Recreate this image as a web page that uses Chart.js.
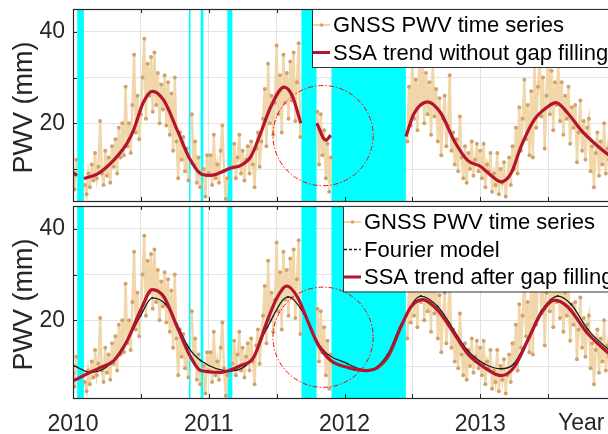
<!DOCTYPE html>
<html>
<head>
<meta charset="utf-8">
<script src="https://cdn.jsdelivr.net/npm/chart.js@4.4.1/dist/chart.umd.min.js"></script>
<style>
    html, body { margin: 0; padding: 0; background: #fff; overflow: hidden; width: 608px; height: 434px; }
    .panel { position: absolute; left: 0; }
    #topPanel { top: 0; }
    #bottomPanel { top: 197px; }
</style>
</head>
<body>
<div class="panel" id="topPanel"><canvas id="topChart" width="620" height="205"></canvas></div>
<div class="panel" id="bottomPanel"><canvas id="bottomChart" width="620" height="237"></canvas></div>
<script>
// GNSS PWV samples, one every 1/80 year from 2010.0 (null = data gap)
const pwvStart = 2010;
const pwvStep = 1 / 80;
const pwvValues = [
    8.5, 5.5, 12.0, null, null, null, null, 6.5,
    4.5, 9.0, 6.0, 11.0, 7.5, 13.5, 8.0, 10.5,
    20.5, 9.0, 6.5, 14.0, 8.5, 12.5, 7.0, 15.0,
    10.5, 16.5, 9.0, 19.0, 12.5, 20.0, 13.0, 28.0,
    15.0, 20.0, 13.5, 24.0, 35.0, 18.0, 26.0, 16.5,
    22.0, 30.0, 38.5, 21.0, 33.0, 26.0, 34.5, 22.5,
    35.5, 24.0, 31.0, 20.0, 28.5, 23.0, 30.5, 19.5,
    29.0, 17.5, 26.5, 14.0, 30.0, 16.0, 8.0, 18.0,
    12.0, 17.0, 9.5, 14.5, 7.5, null, 22.0, 11.0,
    16.0, 7.0, 12.5, 6.0, null, 10.0, 4.0, 13.0,
    9.0, 13.0, 6.5, 17.5, 8.0, 11.0, 7.0, 14.0,
    19.5, 9.5, 3.5, 8.0, null, null, 10.5, 15.5,
    8.0, 12.5, 17.5, 9.0, 14.0, 7.5, 12.0, 15.0,
    9.0, 16.0, 11.0, 6.0, 14.5, 18.0, 10.5, 16.0,
    21.0, 27.5, 15.0, 33.0, 20.0, 26.0, 17.5, 24.5,
    37.0, 22.0, 30.5, 18.0, 35.0, 24.5, 31.0, 21.0,
    33.5, 25.0, 35.5, 20.5, 29.0, 37.5, 17.0, null,
    null, null, null, null, null, null, null, null,
    22.5, 11.0, 22.0, 13.0, 18.5, 8.0, 15.5, 5.0,
    12.5, null, null, null, null, null, null, null,
    null, null, null, null, null, null, null, null,
    null, null, null, null, null, null, null, null,
    null, null, null, null, null, null, null, null,
    null, null, null, null, null, null, null, null,
    null, null, null, null, null, 16.0, 28.0, 19.5,
    34.0, 21.0, 29.5, 18.5, 33.5, 24.0, 36.0, 20.0,
    31.0, 22.0, 29.0, 17.5, 34.0, 21.5, 27.5, 16.0,
    25.5, 13.0, 21.0, 26.0, 15.0, 19.5, 30.5, 14.0,
    18.0, 11.0, 16.5, 9.5, 21.5, 12.5, 8.0, 15.0,
    7.0, 13.5, 10.0, 16.0, 8.5, 12.0, 15.5, 9.5,
    14.0, 8.0, 15.5, 6.0, 11.0, 9.5, 13.5, 5.0,
    9.0, 6.5, 13.5, 4.5, 10.0, 7.0, 11.5, 4.0,
    8.0, 12.5, 6.5, 15.0, 10.0, 19.0, 9.0, 23.5,
    14.0, 21.0, 29.5, 16.5, 24.0, 13.0, 27.0, 12.5,
    33.0, 19.0, 28.0, 35.0, 21.5, 30.0, 14.5, 26.0,
    36.0, 22.0, 31.5, 18.5, 29.0, 24.0, 33.5, 20.5,
    29.0, 17.5, 26.0, 21.0, 28.0, 15.5, 23.5, 19.0,
    24.0, 11.5, 18.0, 25.0, 14.0, 20.5, 12.0, 19.0,
    21.0, 9.5, 15.0, 6.0, 13.5, 18.0, 8.5, 16.0,
    11.0, 20.0, 9.0, 14.5, 12.0, 10.0, 15.0, 11.0
];

// gaps shaded in cyan
const gapStarts = [2010.031, 2010.854, 2010.940, 2011.137, 2011.683, 2011.904];
const gapEnds = [2010.080, 2010.866, 2010.960, 2011.174, 2011.794, 2012.452];

// SSA trend without gap filling (top)
const trendRawYears = [
    2010.0, 2010.03, 2010.05, 2010.08, 2010.178, 2010.299, 2010.400, 2010.446, 2010.520, 2010.584,
    2010.667, 2010.768, 2010.852, 2010.940, 2011.014, 2011.162, 2011.236, 2011.310,
    2011.383, 2011.457, 2011.555, 2011.617, 2011.678, 2011.74, 2011.796, 2011.862,
    2011.899, 2012.2, 2012.452, 2012.513, 2012.612, 2012.710, 2012.806, 2012.907,
    2013.005, 2013.079, 2013.153, 2013.226, 2013.300, 2013.396, 2013.497, 2013.558,
    2013.645, 2013.743, 2013.839, 2013.949, 2014.0
];
const trendRawValues = [
    9.2, 8.6, null, 7.9, 8.9, 11.9, 15.7, 18.5, 24.7, 27.0,
    25.1, 18.5, 12.7, 9.0, 8.6, 10.2, 10.8, 12.7,
    17.9, 23.6, 27.9, 25.9, 20.0, null, 20.0, 16.3,
    17.4, null, 17.1, 22.2, 24.7, 22.2, 16.3, 11.9,
    10.5, 8.6, 7.2, 9.0, 14.9, 20.7, 23.6, 24.5,
    22.2, 18.5, 15.7, 13.0, 12.0
];

// SSA trend after gap filling (bottom)
const trendFilledYears = [
    2010.006, 2010.105, 2010.203, 2010.301, 2010.400, 2010.498, 2010.584, 2010.670,
    2010.768, 2010.854, 2010.940, 2011.088, 2011.236, 2011.331, 2011.432, 2011.506,
    2011.575, 2011.653, 2011.727, 2011.801, 2011.899, 2012.022, 2012.170, 2012.317,
    2012.415, 2012.489, 2012.575, 2012.686, 2012.808, 2012.907, 2013.029, 2013.153,
    2013.249, 2013.350, 2013.448, 2013.546, 2013.645, 2013.792, 2013.949, 2014.0
];
const trendFilledValues = [
    6.8, 8.3, 9.7, 11.2, 15.6, 22.2, 26.7, 25.1,
    18.5, 12.7, 9.0, 8.6, 10.1, 11.9, 20.0, 25.1,
    27.5, 25.1, 20.0, 14.9, 11.2, 9.7, 9.0, 11.9,
    18.5, 22.9, 24.5, 22.2, 17.1, 12.7, 9.7, 7.9,
    9.7, 15.6, 21.5, 24.4, 22.9, 17.1, 12.7, 11.5
];

// Fourier model (bottom)
const fourierYears = [
    2010.006, 2010.129, 2010.277, 2010.400, 2010.498, 2010.584, 2010.682, 2010.768,
    2010.852, 2010.940, 2011.162, 2011.310, 2011.432, 2011.584, 2011.700, 2011.825,
    2012.022, 2012.170, 2012.317, 2012.415, 2012.563, 2012.686, 2012.907, 2013.029,
    2013.153, 2013.249, 2013.350, 2013.448, 2013.571, 2013.669, 2013.792, 2013.949, 2014.0
];
const fourierValues = [
    10.1, 8.6, 10.5, 15.6, 21.0, 24.9, 23.5, 19.0,
    14.0, 11.2, 8.9, 11.2, 18.5, 25.1, 21.5, 14.1,
    10.5, 9.0, 12.5, 19.0, 25.3, 23.0, 13.4, 10.5,
    9.4, 10.5, 16.0, 22.0, 25.3, 23.5, 18.0, 13.5, 12.5
];

// highlight circle: centre (year, mm) and radius in years
const circleTop = [2011.842, 17.3];
const circleBottom = [2011.842, 16.3];
const circleRadiusYears = 0.369;

const xTicks = [2010, 2010.5, 2011, 2011.5, 2012, 2012.5, 2013, 2013.5, 2014];
const xLabelYears = [2010, 2011, 2012, 2013];
const yTicks = [10, 20, 30, 40];
const yLabelled = [20, 40];

(() => {
    Chart.defaults.font.family = '"Liberation Sans", Arial, sans-serif';
    const axisColor = "#262626";
    const wheat = "#f0d6a8";
    const tan = "#d2a26c";
    const crimson = "#b5142e";

    const toPoints = (xs, ys) => xs.map((x, i) => ({ x, y: ys[i] }));
    const pwvPoints = pwvValues.map((y, i) => ({ x: pwvStart + i * pwvStep, y }));

    const gnssDataset = () => ({
        label: "GNSS PWV time series",
        kind: "gnss",
        data: pwvPoints,
        borderColor: wheat,
        borderWidth: 2.4,
        pointRadius: 2,
        pointBackgroundColor: tan,
        pointBorderWidth: 0,
        tension: 0,
        order: 3
    });

    const trendDataset = (label, xs, ys) => ({
        label,
        kind: "ssa",
        data: toPoints(xs, ys),
        borderColor: crimson,
        borderWidth: 3.2,
        pointRadius: 0,
        cubicInterpolationMode: "monotone",
        order: 1
    });

    const fourierDataset = {
        label: "Fourier model",
        kind: "fourier",
        data: toPoints(fourierYears, fourierValues),
        borderColor: "#1c1c1c",
        borderWidth: 1.3,
        pointRadius: 1,
        pointBackgroundColor: "#1c1c1c",
        pointBorderWidth: 0,
        cubicInterpolationMode: "monotone",
        order: 2
    };

    const decorations = {
        id: "decorations",
        beforeDatasetsDraw(chart) {
            const { ctx, chartArea: a, scales: { x } } = chart;
            ctx.save();
            ctx.fillStyle = "#00ffff";
            gapStarts.forEach((start, i) => {
                const x0 = x.getPixelForValue(start);
                const x1 = x.getPixelForValue(gapEnds[i]);
                ctx.fillRect(x0, a.top, Math.max(x1 - x0, 1.5), a.bottom - a.top);
            });
            ctx.restore();
        },
        afterDatasetsDraw(chart, args, opts) {
            const { ctx, chartArea: a, scales: { x, y } } = chart;

            // dash-dot circle
            const cx = x.getPixelForValue(opts.circle[0]);
            const cy = y.getPixelForValue(opts.circle[1]);
            const r = x.getPixelForValue(opts.circle[0] + circleRadiusYears) - cx;
            ctx.save();
            ctx.strokeStyle = "#ff0000";
            ctx.lineWidth = 1;
            ctx.setLineDash([5, 2, 1.5, 2]);
            ctx.beginPath();
            ctx.arc(cx, cy, r, 0, Math.PI * 2);
            ctx.stroke();
            ctx.restore();

            // inward ticks and box
            ctx.save();
            ctx.strokeStyle = axisColor;
            ctx.lineWidth = 1;
            ctx.beginPath();
            xTicks.forEach((v) => {
                const px = Math.round(x.getPixelForValue(v)) + 0.5;
                ctx.moveTo(px, a.bottom); ctx.lineTo(px, a.bottom - 4);
                ctx.moveTo(px, a.top); ctx.lineTo(px, a.top + 4);
            });
            yTicks.forEach((v) => {
                const py = Math.round(y.getPixelForValue(v)) + 0.5;
                ctx.moveTo(a.left, py); ctx.lineTo(a.left + 4, py);
            });
            ctx.stroke();
            ctx.lineWidth = 1.2;
            ctx.strokeRect(Math.round(a.left) + 0.5, Math.round(a.top) + 0.5,
                a.right - a.left, Math.round(a.bottom - a.top));
            ctx.restore();

            // legend
            const items = chart.data.datasets;
            const left = opts.legendLeft;
            const top = a.top;
            const rowGap = 27.5;
            ctx.save();
            ctx.fillStyle = "#ffffff";
            ctx.fillRect(left, top, a.right - left + 10, items.length * rowGap + 3);
            ctx.strokeStyle = "#333333";
            ctx.lineWidth = 1;
            ctx.strokeRect(left + 0.5, top + 0.5, a.right - left + 10, items.length * rowGap + 3);
            ctx.font = '22px "Liberation Sans", Arial, sans-serif';
            ctx.textBaseline = "middle";
            ctx.textAlign = "left";
            items.forEach((ds, i) => {
                const ry = top + 16 + i * rowGap;
                ctx.beginPath();
                ctx.setLineDash(ds.kind === "fourier" ? [3, 2] : []);
                ctx.strokeStyle = ds.borderColor;
                ctx.lineWidth = ds.kind === "ssa" ? 3 : (ds.kind === "gnss" ? 2 : 1.3);
                ctx.moveTo(left + 1, ry);
                ctx.lineTo(left + 18, ry);
                ctx.stroke();
                ctx.setLineDash([]);
                if (ds.kind === "gnss") {
                    ctx.fillStyle = tan;
                    ctx.beginPath();
                    ctx.arc(left + 9.5, ry, 1.8, 0, Math.PI * 2);
                    ctx.fill();
                }
                ctx.fillStyle = "#000000";
                ctx.fillText(ds.label, left + 21, ry + 1);
            });
            ctx.restore();

            // y title
            ctx.save();
            ctx.fillStyle = axisColor;
            ctx.font = '27px "Liberation Sans", Arial, sans-serif';
            ctx.textAlign = "center";
            ctx.textBaseline = "middle";
            ctx.translate(25, (a.top + a.bottom) / 2 + 2.5);
            ctx.rotate(-Math.PI / 2);
            ctx.fillText("PWV (mm)", 0, 0);
            ctx.restore();

            if (opts.yearLabel) {
                ctx.save();
                ctx.fillStyle = axisColor;
                ctx.font = '23px "Liberation Sans", Arial, sans-serif';
                ctx.textAlign = "left";
                ctx.textBaseline = "middle";
                ctx.fillText("Year", 558, a.bottom + 26);
                ctx.restore();
            }
        }
    };

    const makePanel = (canvasId, datasets, showXLabels, extra) => new Chart(document.getElementById(canvasId), {
        type: "line",
        data: { datasets },
        plugins: [decorations],
        options: {
            responsive: false,
            animation: false,
            devicePixelRatio: 1,
            events: [],
            layout: { padding: { top: 9, right: 4, left: 0, bottom: 0 } },
            plugins: {
                legend: { display: false },
                tooltip: { enabled: false },
                decorations: extra
            },
            scales: {
                x: {
                    type: "linear",
                    min: 2010,
                    max: 2014,
                    afterBuildTicks: (scale) => { scale.ticks = xTicks.map((value) => ({ value })); },
                    afterFit: (scale) => {
                        scale.height = showXLabels ? 36 : 4;
                        scale.paddingLeft = 0;
                        scale.paddingRight = 0;
                    },
                    grid: { color: "#e3e3e3", drawTicks: false },
                    border: { display: false },
                    ticks: {
                        display: showXLabels,
                        autoSkip: false,
                        maxRotation: 0,
                        padding: 13,
                        color: axisColor,
                        font: { size: 23 },
                        callback: (v) => (xLabelYears.includes(v) ? String(v) : "")
                    }
                },
                y: {
                    min: 3,
                    max: 45,
                    afterBuildTicks: (scale) => { scale.ticks = yTicks.map((value) => ({ value })); },
                    afterFit: (scale) => {
                        scale.width = 73;
                        scale.paddingTop = 0;
                        scale.paddingBottom = 0;
                    },
                    grid: { color: "#e3e3e3", drawTicks: false },
                    border: { display: false },
                    ticks: {
                        padding: 8,
                        color: axisColor,
                        font: { size: 23 },
                        callback: (v) => (yLabelled.includes(v) ? String(v) : "")
                    }
                }
            }
        }
    });

    makePanel("topChart", [
        gnssDataset(),
        trendDataset("SSA trend without gap filling", trendRawYears, trendRawValues)
    ], false, { circle: circleTop, legendLeft: 312, yearLabel: false });

    makePanel("bottomChart", [
        gnssDataset(),
        fourierDataset,
        trendDataset("SSA trend after gap filling", trendFilledYears, trendFilledValues)
    ], true, { circle: circleBottom, legendLeft: 343, yearLabel: true });
})();
</script>
</body>
</html>
